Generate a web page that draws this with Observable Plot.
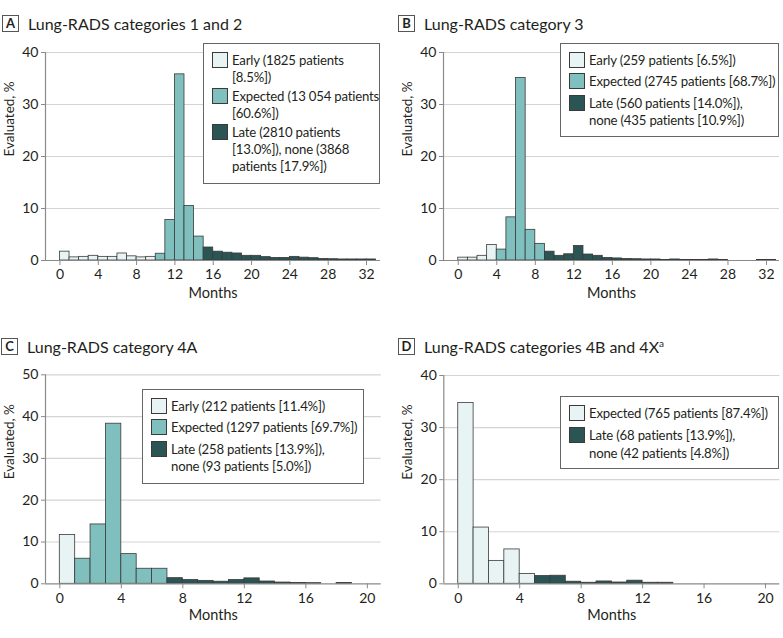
<!DOCTYPE html>
<html><head><meta charset="utf-8">
<script src="https://cdn.jsdelivr.net/npm/d3@7"></script>
<script src="https://cdn.jsdelivr.net/npm/@observablehq/plot@0.6"></script>
<style>
body{margin:0;background:#fff;font-family:Lato,"Open Sans",sans-serif;color:#231f20}
#root{position:relative;width:783px;height:638px;overflow:hidden;background:#fff}
.pl{position:absolute}
.title{position:absolute;font-size:16px;white-space:nowrap;line-height:18px}
.title sup{font-size:10px;vertical-align:6px;line-height:0}
.badge{position:absolute;width:17px;height:17px;border:1px solid #555;font-weight:bold;font-size:13px;text-align:center;line-height:15px;box-sizing:border-box;background:#fff}
.legend{position:absolute;background:#fff;border:1px solid #666;box-sizing:border-box;padding:8px 2px 6px 8px;font-size:13.2px;letter-spacing:-0.2px;line-height:17.4px}
.item{display:flex;align-items:flex-start;white-space:pre}
.sw{width:16px;height:16px;border:1px solid #3a3a3a;box-sizing:border-box;margin-right:4px;flex:none}
</style>
</head><body><div id="root"></div>
<script>
// ---- data ----
const colorEarly = "#e8f3f4", colorExpected = "#7fbfbe", colorLate = "#2b5554";

const startsA = [0,1,2,3,4,5,6,7,8,9,10,11,12,13,14,15,16,17,18,19,20,21,22,23,24,25,26,27,28,29,30,31,32];
const valuesA = [1.7,0.6,0.7,0.9,0.7,0.7,1.35,0.8,0.6,0.7,1.3,7.8,35.8,10.5,4.6,2.5,1.7,1.5,1.35,0.9,0.9,0.65,0.5,0.5,0.7,0.55,0.45,0.3,0.25,0.2,0.2,0.2,0.2];
const phaseStartsA = {Early: 0, Expected: 10, Late: 15};

const startsB = [0,1,2,3,4,5,6,7,8,9,10,11,12,13,14,15,16,17,18,19,20,21,22,23,24,25,26,27,28,29,30,31,32];
const valuesB = [0.55,0.55,0.9,3.0,2.1,8.3,35.1,5.9,3.2,1.7,0.9,1.2,2.8,1.15,0.9,0.5,0.4,0.3,0.25,0.2,0.2,0.1,0.2,0.1,0.1,0.1,0.2,0.1,0,0,0,0.1,0.1];
const phaseStartsB = {Early: 0, Expected: 4, Late: 9};

const startsC = [0,1,2,3,4,5,6,7,8,9,10,11,12,13,14,15,16,17,18,19];
const valuesC = [11.7,6.0,14.2,38.3,7.1,3.6,3.6,1.35,0.9,0.7,0.5,0.9,1.3,0.55,0.3,0.2,0.15,0,0.2,0];
const phaseStartsC = {Early: 0, Expected: 1, Late: 7};

const startsD = [0,1,2,3,4,5,6,7,8,9,10,11,12,13];
const valuesD = [34.7,10.8,4.4,6.6,1.9,1.5,1.55,0.4,0.2,0.45,0.25,0.6,0.2,0.2];
const phaseStartsD = {Expected: 0, Late: 5};

const xTicksLong = [0,4,8,12,16,20,24,28,32];
const xTicksShort = [0,4,8,12,16,20];
const yTicks40 = [0,10,20,30,40];
const yTicks50 = [0,10,20,30,40,50];

const titleA = "Lung-RADS categories 1 and 2";
const titleB = "Lung-RADS category 3";
const titleC = "Lung-RADS category 4A";
const titleD = "Lung-RADS categories 4B and 4X";

const legendA = ["Early (1825 patients\n[8.5%])", "Expected (13\u202f054 patients\n[60.6%])", "Late (2810 patients\n[13.0%]), none (3868\npatients [17.9%])"];
const legendB = ["Early (259 patients [6.5%])", "Expected (2745 patients [68.7%])", "Late (560 patients [14.0%]),\nnone (435 patients [10.9%])"];
const legendC = ["Early (212 patients [11.4%])", "Expected (1297 patients [69.7%])", "Late (258 patients [13.9%]),\nnone (93 patients [5.0%])"];
const legendD = ["Expected (765 patients [87.4%])", "Late (68 patients [13.9%]),\nnone (42 patients [4.8%])"];

// ---- build ----
const root = document.getElementById("root");

function phaseOf(start, phaseStarts) {
  let p = null;
  for (const [k, s] of Object.entries(phaseStarts)) if (start >= s) p = k;
  return p;
}

function makePanel(cfg) {
  const data = cfg.starts.map((s, i) => ({x1: s, x2: s + 1, v: cfg.values[i], phase: phaseOf(s, cfg.phaseStarts)}))
    .filter(d => d.v > 0);
  const svg = Plot.plot({
    width: cfg.width, height: cfg.height,
    marginLeft: cfg.ml, marginRight: cfg.mr, marginTop: cfg.mt, marginBottom: cfg.mb,
    style: {fontFamily: "Lato, sans-serif", fontSize: "13px", color: "#231f20", background: "transparent", overflow: "visible"},
    x: {type: "linear", domain: cfg.xDomain},
    y: {domain: [0, cfg.yTicks[cfg.yTicks.length - 1]]},
    color: {domain: cfg.colorDomain, range: cfg.colorRange},
    marks: [
      Plot.gridY(cfg.yTicks.slice(1), {stroke: "#d4d4d4", strokeOpacity: 1, strokeWidth: 1.2}),
      Plot.rectY(data, {x1: "x1", x2: "x2", y: "v", fill: "phase", stroke: "#3a3a3a", strokeWidth: 0.8}),
      Plot.ruleY([0], {stroke: "#8a8a8a", strokeWidth: 1.2}),
      Plot.ruleX([cfg.xDomain[0]], {stroke: "#8a8a8a", strokeWidth: 1.2}),
      Plot.axisY({ticks: cfg.yTicks, tickSize: 4, tickPadding: 3, label: null, stroke: "#8a8a8a", fontSize: 14}),
      Plot.axisX({ticks: cfg.xTicks, tickSize: 5, tickPadding: 4, label: null, stroke: "#8a8a8a", fontSize: 14}),
      Plot.text(["Evaluated, %"], {frameAnchor: "left", rotate: -90, dx: -36, fontSize: 13.5}),
      Plot.text(["Months"], {frameAnchor: "bottom", dy: cfg.monthsDy, fontSize: 14.5})
    ]
  });
  const wrap = document.createElement("div");
  wrap.className = "pl";
  wrap.style.left = cfg.left + "px";
  wrap.style.top = cfg.top + "px";
  wrap.appendChild(svg);
  root.appendChild(wrap);

  const badge = document.createElement("div");
  badge.className = "badge";
  badge.textContent = cfg.letter;
  badge.style.left = cfg.badgeX + "px";
  badge.style.top = cfg.badgeY + "px";
  root.appendChild(badge);

  const t = document.createElement("div");
  t.className = "title";
  t.textContent = cfg.title;
  if (cfg.sup) { const s = document.createElement("sup"); s.textContent = cfg.sup; t.appendChild(s); }
  t.style.left = (cfg.badgeX + 26) + "px";
  t.style.top = (cfg.badgeY - 0.5) + "px";
  root.appendChild(t);

  const lg = document.createElement("div");
  lg.className = "legend";
  Object.assign(lg.style, {left: cfg.lg[0] + "px", top: cfg.lg[1] + "px", width: cfg.lg[2] + "px", height: cfg.lg[3] + "px"});
  cfg.legend.forEach((txt, i) => {
    const it = document.createElement("div");
    it.className = "item";
    if (i > 0) it.style.marginTop = cfg.gap + "px";
    const sw = document.createElement("div");
    sw.className = "sw";
    sw.style.background = cfg.colorRange[i];
    const tx = document.createElement("div");
    tx.textContent = txt;
    it.appendChild(sw); it.appendChild(tx);
    lg.appendChild(it);
  });
  root.appendChild(lg);
}

makePanel({letter: "A", title: titleA, left: 0, top: 0, width: 390, height: 310, ml: 45, mr: 10, mt: 52, mb: 50,
  xDomain: [-1.51, 33.46], xTicks: xTicksLong, yTicks: yTicks40, starts: startsA, values: valuesA, phaseStarts: phaseStartsA,
  colorDomain: ["Early", "Expected", "Late"], colorRange: [colorEarly, colorExpected, colorLate], monthsDy: 37,
  badgeX: 2, badgeY: 15, legend: legendA, lg: [203, 43, 177, 141], gap: 1});

makePanel({letter: "B", title: titleB, left: 390, top: 0, width: 393, height: 310, ml: 53, mr: 4, mt: 52, mb: 50,
  xDomain: [-1.53, 33.35], xTicks: xTicksLong, yTicks: yTicks40, starts: startsB, values: valuesB, phaseStarts: phaseStartsB,
  colorDomain: ["Early", "Expected", "Late"], colorRange: [colorEarly, colorExpected, colorLate], monthsDy: 37,
  badgeX: 398, badgeY: 15, legend: legendB, lg: [560, 43, 219, 94], gap: 4});

makePanel({letter: "C", title: titleC, left: 0, top: 310, width: 390, height: 328, ml: 45, mr: 9.3, mt: 64.3, mb: 54.7,
  xDomain: [-0.93, 20.9], xTicks: xTicksShort, yTicks: yTicks50, starts: startsC, values: valuesC, phaseStarts: phaseStartsC,
  colorDomain: ["Early", "Expected", "Late"], colorRange: [colorEarly, colorExpected, colorLate], monthsDy: 36,
  badgeX: 1, badgeY: 338, legend: legendC, lg: [142, 389, 222, 95], gap: 4});

makePanel({letter: "D", title: titleD, sup: "a", left: 390, top: 310, width: 393, height: 328, ml: 53.3, mr: 3.7, mt: 65, mb: 54.7,
  xDomain: [-0.94, 20.93], xTicks: xTicksShort, yTicks: yTicks40, starts: startsD, values: valuesD, phaseStarts: phaseStartsD,
  colorDomain: ["Expected", "Late"], colorRange: [colorEarly, colorLate], monthsDy: 36,
  badgeX: 398, badgeY: 338, legend: legendD, lg: [560, 396, 219, 73], gap: 5});
</script>
</body></html>
